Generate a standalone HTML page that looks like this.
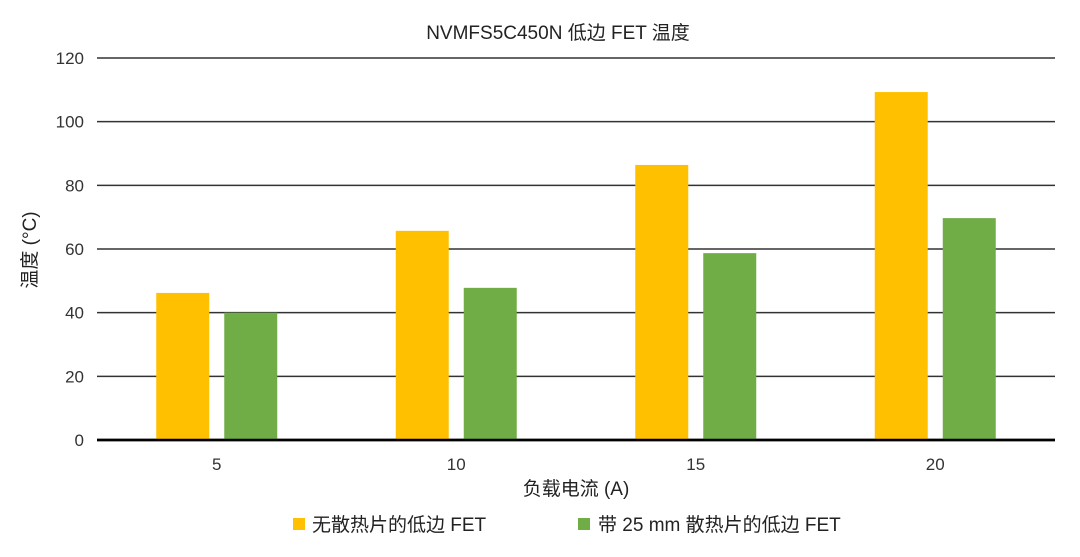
<!DOCTYPE html>
<html><head><meta charset="utf-8"><style>
body{margin:0;background:#fff;width:1080px;height:552px;overflow:hidden;font-family:"Liberation Sans","Noto Sans CJK SC",sans-serif;}
</style></head><body>
<svg width="1080" height="552" xmlns="http://www.w3.org/2000/svg" font-family="Liberation Sans, Noto Sans CJK SC, sans-serif">
<text x="558" y="39" text-anchor="middle" font-size="19" fill="#222">NVMFS5C450N 低边 FET 温度</text>
<g id="grid"></g>
<g id="yt"></g>
<g id="bars"></g>
<g id="xt"></g>
<text x="36" y="250" transform="rotate(-90 36 250)" text-anchor="middle" font-size="19" fill="#222">温度 (°C)</text>
<text x="576" y="495" text-anchor="middle" font-size="19" fill="#222">负载电流 (A)</text>
<g><rect x="293" y="518" width="12" height="12" fill="#FFC000"/><text x="312" y="531" font-size="19" fill="#222">无散热片的低边 FET</text></g>
<g><rect x="578" y="518" width="12" height="12" fill="#70AD47"/><text x="598" y="531" font-size="19" fill="#222">带 25 mm 散热片的低边 FET</text></g>
</svg>
<script>
const categories=["5","10","15","20"];
const noHeatsink=[46.2,65.7,86.4,109.3];
const withHeatsink=[40,47.8,58.7,69.7];
const yTicks=[0,20,40,60,80,100,120];
const NS="http://www.w3.org/2000/svg";
const x0=97,x1=1055,yBase=440,yTop=58,yMax=120;
const y=v=>yBase-(yBase-yTop)*v/yMax;
const band=(x1-x0)/categories.length;
const cx=i=>x0+band*(i+0.5);
function mk(tag,attrs,parent){const e=document.createElementNS(NS,tag);for(const k in attrs)e.setAttribute(k,attrs[k]);parent.appendChild(e);return e;}
const grid=document.getElementById('grid'),yt=document.getElementById('yt'),bars=document.getElementById('bars'),xt=document.getElementById('xt');
yTicks.forEach(t=>{
 const l=mk('line',{x1:x0,x2:x1,y1:y(t),y2:y(t),stroke:t===0?'#000':'#333','stroke-width':t===0?2.5:1.5},grid);
 
 
 const tx=mk('text',{x:84,y:y(t)+6,'text-anchor':'end','font-size':17,fill:'#333'},yt);
 tx.textContent=t;
 
 
});
const bw=53,gap=15;
categories.forEach((c,i)=>{
 const a=mk('rect',{x:cx(i)-gap/2-bw,y:y(noHeatsink[i]),width:bw,height:yBase-y(noHeatsink[i]),fill:'#FFC000'},bars);
 
 
 const b=mk('rect',{x:cx(i)+gap/2,y:y(withHeatsink[i]),width:bw,height:yBase-y(withHeatsink[i]),fill:'#70AD47'},bars);
 
 
 const t=mk('text',{x:cx(i),y:470,'text-anchor':'middle','font-size':17,fill:'#333'},xt);
 t.textContent=c;
 
 
});
// redraw baseline on top
const base=mk('line',{x1:x0,x2:x1,y1:yBase,y2:yBase,stroke:'#000','stroke-width':2.5},bars);


</script>
</body></html>
